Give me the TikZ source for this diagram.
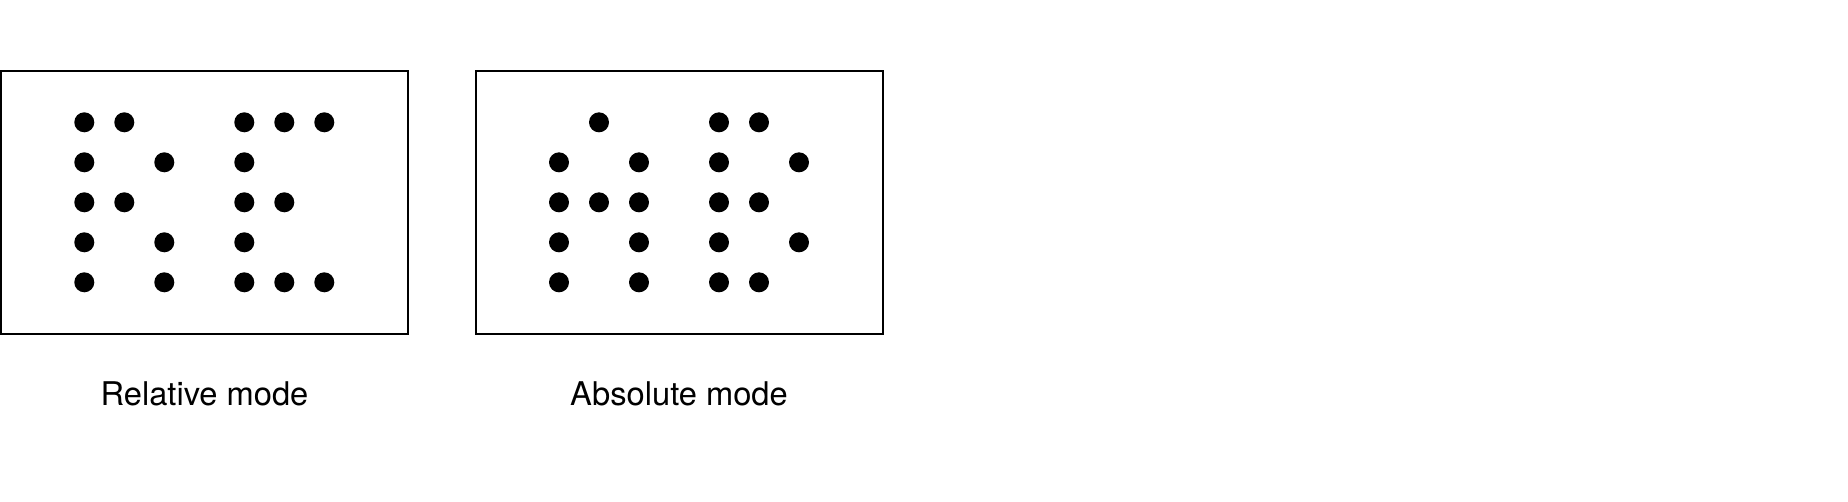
\documentclass[tikz,border=0pt]{standalone}
\usepackage{fontspec}
\setmainfont{TeX Gyre Heros}
\usetikzlibrary{positioning}

\tikzset{every picture/.style={line width=0.75pt}}
\tikzset{
  modebox/.style={draw, line width=1.5pt, rectangle, minimum width=305.25pt, minimum height=197.25pt, inner sep=0pt},
  dot/.style={circle, fill=black, minimum size=15pt, inner sep=0pt},
  modelabel/.style={inner sep=0.75pt, font=\fontsize{24.5}{29}\selectfont}
}

\begin{document}
\begin{tikzpicture}[x=0.75pt,y=0.75pt,yscale=-1,xscale=1]
%set diagram left start at 0, and has height of 501
\useasboundingbox (0,0) rectangle (1848,501);

%Shape: Rectangle [id:relbox]
\node[modebox] (relbox) at (204.5,202) {};
%Shape: Rectangle [id:absbox]
\node[modebox] (absbox) at (679,202) {};

%Dots: Relative mode (column/row)
\foreach \c/\r in {0/0,1/0,4/0,5/0,6/0, 0/1,2/1,4/1, 0/2,1/2,4/2,5/2, 0/3,2/3,4/3, 0/4,2/4,4/4,5/4,6/4}
  \node[dot] (rel-\c-\r) at (84.3+40*\c,122.3+40*\r) {};
%Dots: Absolute mode (column/row)
\foreach \c/\r in {1/0,4/0,5/0, 0/1,2/1,4/1,6/1, 0/2,1/2,2/2,4/2,5/2, 0/3,2/3,4/3,6/3, 0/4,2/4,4/4,5/4}
  \node[dot] (abs-\c-\r) at (559+40*\c,122.3+40*\r) {};

% Text Node
\node[modelabel, anchor=base] (rellabel) at (204.5,405) {Relative mode};
% Text Node
\node[modelabel, anchor=base] (abslabel) at (679,405) {Absolute mode};

\end{tikzpicture}
\end{document}
